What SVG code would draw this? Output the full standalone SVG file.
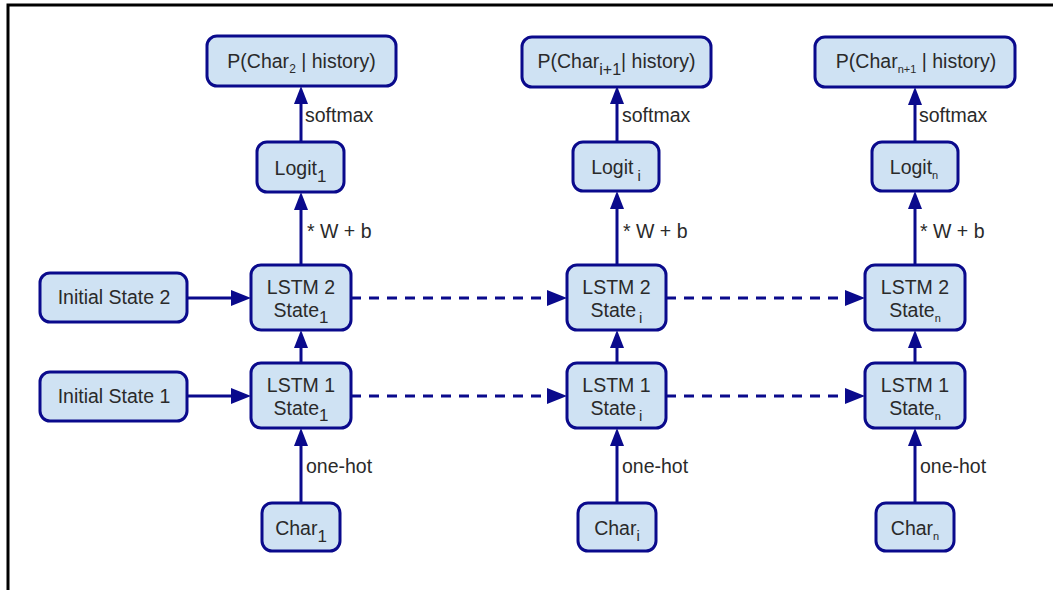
<svg xmlns="http://www.w3.org/2000/svg" width="1053" height="590" viewBox="0 0 1053 590">
<style>
.box{fill:#cfe2f3;stroke:#0a0a8c;stroke-width:3}
.t{font-family:"Liberation Sans",Arial,sans-serif;font-size:19.5px;fill:#2a2a2a;text-anchor:middle}
.lbl{font-family:"Liberation Sans",Arial,sans-serif;font-size:19.5px;fill:#2a2a2a}
.c{fill:none;stroke:#0a0a8c;stroke-width:3;marker-end:url(#ah)}
.h{marker-end:url(#ahh)}
.d{stroke-dasharray:10 8}
.frame{stroke:#000;stroke-width:3;fill:none}
</style>
<defs>
<marker id="ah" viewBox="0 0 18 14" markerWidth="18" markerHeight="14" markerUnits="userSpaceOnUse" refX="10" refY="7" orient="auto">
<path d="M0,0 L18,7 L0,14 z" fill="#0a0a8c"/>
</marker>
<marker id="ahh" viewBox="0 0 20 16" markerWidth="20" markerHeight="16" markerUnits="userSpaceOnUse" refX="12" refY="8" orient="auto">
<path d="M0,0 L20,8 L0,16 z" fill="#0a0a8c"/>
</marker>
</defs>
<rect width="1053" height="590" fill="#fff"/>
<path class="frame" d="M8,590 V5 H1053"/>

<g id="connectors">
<path class="c" d="M301,142 V94"/>
<path class="c" d="M301,265 V200"/>
<path class="c" d="M301,363 V338"/>
<path class="c" d="M301,503 V436"/>
<path class="c" d="M617,142 V94"/>
<path class="c" d="M617,265 V199"/>
<path class="c" d="M617,363 V338"/>
<path class="c" d="M617,503 V436"/>
<path class="c" d="M915,142 V95"/>
<path class="c" d="M915,265 V199"/>
<path class="c" d="M915,363 V338"/>
<path class="c" d="M915,503 V436"/>
<path class="c h" d="M187,298 H243"/>
<path class="c h" d="M187,396 H243"/>
<path class="c h d" d="M351,298 H559"/>
<path class="c h d" d="M351,396 H559"/>
<path class="c h d" d="M666,298 H857"/>
<path class="c h d" d="M666,396 H857"/>
<text class="lbl" x="305" y="122">softmax</text>
<text class="lbl" x="307" y="238">* W + b</text>
<text class="lbl" x="306" y="473">one-hot</text>
<text class="lbl" x="622" y="122">softmax</text>
<text class="lbl" x="623" y="238">* W + b</text>
<text class="lbl" x="622" y="473">one-hot</text>
<text class="lbl" x="919" y="122">softmax</text>
<text class="lbl" x="920" y="238">* W + b</text>
<text class="lbl" x="920" y="473">one-hot</text>
</g>

<g id="p1"><rect class="box" x="207" y="36" width="189" height="50" rx="10"/>
<text class="t" x="301.5" y="68">P(Char<tspan font-size="12" dy="5">2</tspan><tspan dy="-5"> | history)</tspan></text></g>
<g id="logit1"><rect class="box" x="257" y="142" width="87" height="50" rx="10"/>
<text class="t" x="300.5" y="175">Logit<tspan font-size="17" dy="7">1</tspan></text></g>
<g id="lstm2_1"><rect class="box" x="251" y="265" width="100" height="65" rx="10"/>
<text class="t" x="301" y="294">LSTM 2</text>
<text class="t" x="301" y="317">State<tspan font-size="17" dy="6">1</tspan></text></g>
<g id="lstm1_1"><rect class="box" x="251" y="363" width="100" height="65" rx="10"/>
<text class="t" x="301" y="392">LSTM 1</text>
<text class="t" x="301" y="415">State<tspan font-size="17" dy="6">1</tspan></text></g>
<g id="char1"><rect class="box" x="262" y="503" width="78" height="48" rx="10"/>
<text class="t" x="301" y="535">Char<tspan font-size="17" dy="7">1</tspan></text></g>
<g id="init2"><rect class="box" x="40" y="273" width="147" height="49" rx="10"/>
<text class="t" x="114" y="304">Initial State 2</text></g>
<g id="init1"><rect class="box" x="40" y="372" width="147" height="49" rx="10"/>
<text class="t" x="114" y="403">Initial State 1</text></g>

<g id="p2"><rect class="box" x="522" y="37" width="189" height="50" rx="10"/>
<text class="t" x="616.5" y="68">P(Char<tspan font-size="16" dy="7">i+1</tspan><tspan dy="-7">| history)</tspan></text></g>
<g id="logit2"><rect class="box" x="573" y="142" width="86" height="49" rx="10"/>
<text class="t" x="616" y="174">Logit<tspan font-size="15" dx="4" dy="7">i</tspan></text></g>
<g id="lstm2_2"><rect class="box" x="567" y="265" width="99" height="65" rx="10"/>
<text class="t" x="616.5" y="294">LSTM 2</text>
<text class="t" x="616.5" y="317">State<tspan font-size="15" dx="3" dy="6">i</tspan></text></g>
<g id="lstm1_2"><rect class="box" x="567" y="363" width="99" height="65" rx="10"/>
<text class="t" x="616.5" y="392">LSTM 1</text>
<text class="t" x="616.5" y="415">State<tspan font-size="15" dx="3" dy="6">i</tspan></text></g>
<g id="char2"><rect class="box" x="578" y="503" width="78" height="48" rx="10"/>
<text class="t" x="617" y="535">Char<tspan font-size="15" dy="6">i</tspan></text></g>

<g id="p3"><rect class="box" x="815" y="37" width="200" height="50" rx="10"/>
<text class="t" x="916" y="68">P(Char<tspan font-size="11" dy="5">n+1</tspan><tspan dy="-5"> | history)</tspan></text></g>
<g id="logit3"><rect class="box" x="872" y="142" width="86" height="49" rx="10"/>
<text class="t" x="914" y="174">Logit<tspan font-size="11" dy="5">n</tspan></text></g>
<g id="lstm2_3"><rect class="box" x="865" y="265" width="100" height="65" rx="10"/>
<text class="t" x="915" y="294">LSTM 2</text>
<text class="t" x="915" y="317">State<tspan font-size="11" dy="5">n</tspan></text></g>
<g id="lstm1_3"><rect class="box" x="865" y="363" width="100" height="65" rx="10"/>
<text class="t" x="915" y="392">LSTM 1</text>
<text class="t" x="915" y="415">State<tspan font-size="11" dy="5">n</tspan></text></g>
<g id="char3"><rect class="box" x="876" y="503" width="78" height="48" rx="10"/>
<text class="t" x="915" y="535">Char<tspan font-size="11" dy="5">n</tspan></text></g>
</svg>
